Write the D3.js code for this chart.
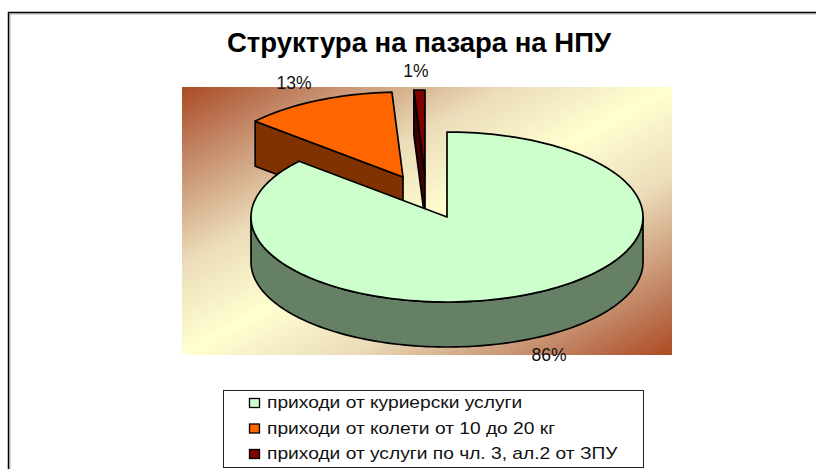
<!DOCTYPE html>
<html>
<head>
<meta charset="utf-8">
<script src="https://d3js.org/d3.v7.min.js"></script>
<style>
html, body { margin: 0; padding: 0; background: #fff; }
svg { display: block; }
text { font-family: "Liberation Sans", Arial, sans-serif; fill: #111; }
</style>
</head>
<body>
<svg width="816" height="469"></svg>
<script>
var titleText = "Структура на пазара на НПУ";
var categories = [
    "приходи от куриерски услуги",
    "приходи от колети от 10 до 20 кг",
    "приходи от услуги по чл. 3, ал.2 от ЗПУ"
];
// the labels show them rounded
var values = [86.4, 12.7, 0.9];
var topColors = ["#ccffcc", "#ff6600", "#800000"];
var sideColors = ["#668066", "#803300", "#400000"];

var svg = d3.select("svg"),
    width = +svg.attr("width"),
    height = +svg.attr("height");

// 3d pie settings
var cx = 447, cy = 217, rx = 196, ry = 85, depth = 45;
// how far each slice is pulled out of the pie
var explode = [[0, 0], [-44, -40], [-22, -42]];
var labelPos = [[549, 361], [294, 89], [416, 77]];

var defs = svg.append("defs");

var grad = defs.append("linearGradient").attr("id", "plotGrad")
    .attr("x1", 0).attr("y1", 0).attr("x2", 1).attr("y2", 1);
grad.append("stop").attr("offset", "0%").attr("stop-color", "#a8431a");
grad.append("stop").attr("offset", "12%").attr("stop-color", "#bd7a58");
grad.append("stop").attr("offset", "33%").attr("stop-color", "#eadbb6");
grad.append("stop").attr("offset", "50%").attr("stop-color", "#ffffcf");
grad.append("stop").attr("offset", "67%").attr("stop-color", "#eadbb6");
grad.append("stop").attr("offset", "88%").attr("stop-color", "#bd7a58");
grad.append("stop").attr("offset", "100%").attr("stop-color", "#a8431a");

// fine diagonal hatch over the gradient
var hatch = defs.append("pattern").attr("id", "plotHatch")
    .attr("width", 3).attr("height", 3)
    .attr("patternUnits", "userSpaceOnUse");
hatch.append("path").attr("d", "M-1,1L1,-1M0,3L3,0M2,4L4,2")
    .attr("stroke", "#fff").attr("stroke-opacity", 0.12).attr("stroke-width", 1);

// outer frame, runs off the right and bottom of the picture
svg.append("path").attr("d", "M10,470V14H817")
    .attr("fill", "none").attr("stroke", "#b0b0b0").attr("stroke-width", 1);
svg.append("path").attr("d", "M8.5,470V12.5H817")
    .attr("fill", "none").attr("stroke", "#000").attr("stroke-width", 1.5);

svg.append("text")
    .attr("x", 419).attr("y", 52)
    .attr("text-anchor", "middle")
    .style("font-size", "27.5px")
    .style("font-weight", "bold")
    .style("fill", "#000")
    .text(titleText);

svg.append("rect").attr("x", 182).attr("y", 87).attr("width", 490).attr("height", 268)
    .attr("fill", "url(#plotGrad)");
svg.append("rect").attr("x", 182).attr("y", 87).attr("width", 490).attr("height", 268)
    .attr("fill", "url(#plotHatch)");

var pie = d3.pie().sort(null)(values);

// angle is clockwise from the top, the circle is flattened to an ellipse
function point(a, off, dy) {
    return [cx + off[0] + rx * Math.sin(a), cy + off[1] - ry * Math.cos(a) + (dy || 0)];
}

function arcPoints(a0, a1, off, dy) {
    var n = Math.max(2, Math.ceil((a1 - a0) / 0.03));
    return d3.range(n + 1).map(function(i) {
        return point(a0 + (a1 - a0) * i / n, off, dy);
    });
}

var line = d3.line();

function topPath(d, off) {
    var apex = [cx + off[0], cy + off[1]];
    return line([apex].concat(arcPoints(d.startAngle, d.endAngle, off))) + "Z";
}

// the parts of a slice's side that can be seen from the front
function sidePaths(d, off) {
    var out = [];
    var a0 = Math.max(d.startAngle, Math.PI / 2),
        a1 = Math.min(d.endAngle, Math.PI * 1.5);
    if (a1 > a0) {
        var front = arcPoints(a0, a1, off);
        var back = arcPoints(a0, a1, off, depth).reverse();
        out.push(line(front.concat(back)) + "Z");
    }
    // cut edge on the start side, only for slices lying in the back left
    if (d.startAngle > Math.PI) {
        var apex = [cx + off[0], cy + off[1]];
        var outer = point(d.startAngle, off);
        out.push(line([outer, apex, [apex[0], apex[1] + depth], [outer[0], outer[1] + depth]]) + "Z");
    }
    return out;
}

// back slices first, the big slice goes over them
var order = [2, 1, 0];
order.forEach(function(i) {
    var g = svg.append("g").attr("class", "slice");
    g.selectAll("path.side")
        .data(sidePaths(pie[i], explode[i]))
        .enter().append("path")
        .attr("class", "side")
        .attr("d", function(d) { return d; })
        .attr("fill", sideColors[i])
        .attr("stroke", "#000")
        .attr("stroke-width", 1.7)
        .attr("stroke-linejoin", "round");
    g.append("path")
        .attr("d", topPath(pie[i], explode[i]))
        .attr("fill", topColors[i])
        .attr("stroke", "#000")
        .attr("stroke-width", 1.7)
        .attr("stroke-linejoin", "round");
});

svg.selectAll(".pct")
    .data(values)
    .enter().append("text")
    .attr("class", "pct")
    .attr("x", function(d, i) { return labelPos[i][0]; })
    .attr("y", function(d, i) { return labelPos[i][1]; })
    .attr("text-anchor", "middle")
    .style("font-size", "17.5px")
    .text(function(d) { return Math.round(d) + "%"; });

// legend
svg.append("rect").attr("x", 223.5).attr("y", 390.5).attr("width", 420).attr("height", 77)
    .attr("fill", "#fff").attr("stroke", "#222").attr("stroke-width", 1);

var legendY = d3.scalePoint().domain(d3.range(categories.length)).range([403, 454]);

var item = svg.selectAll(".legend-item")
    .data(categories)
    .enter().append("g")
    .attr("class", "legend-item")
    .attr("transform", function(d, i) { return "translate(0," + legendY(i) + ")"; });

item.append("rect")
    .attr("x", 249.5).attr("y", -4.5).attr("width", 10).attr("height", 9)
    .attr("fill", function(d, i) { return topColors[i]; })
    .attr("stroke", "#000").attr("stroke-width", 1.3);

// the legend text in the picture is stretched sideways
item.append("text")
    .attr("transform", "translate(267,5) scale(1.2,1)")
    .style("font-size", "16px")
    .text(function(d) { return d; });
</script>
</body>
</html>
